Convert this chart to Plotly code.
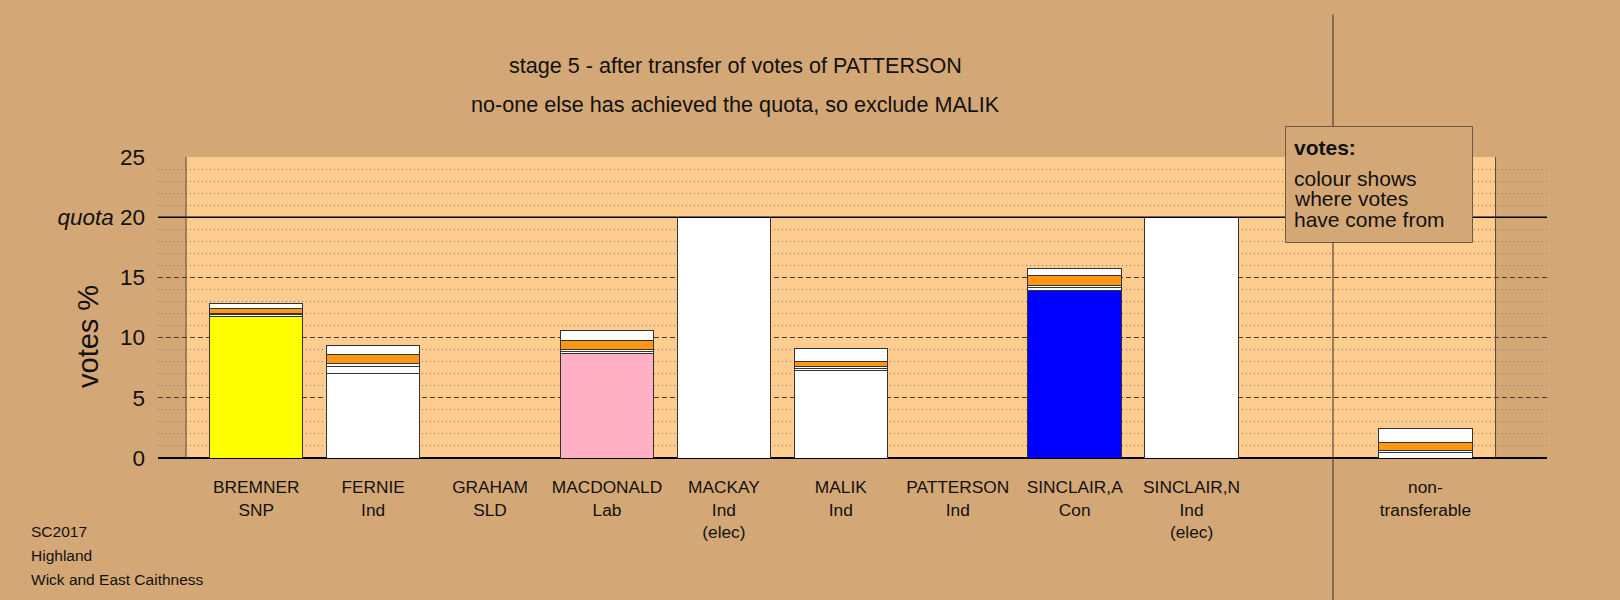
import plotly.graph_objects as go

# ---------------- data ----------------
categories = ["BREMNER<br>SNP", "FERNIE<br>Ind", "GRAHAM<br>SLD", "MACDONALD<br>Lab",
              "MACKAY<br>Ind<br>(elec)", "MALIK<br>Ind", "PATTERSON<br>Ind",
              "SINCLAIR,A<br>Con", "SINCLAIR,N<br>Ind<br>(elec)", "non-<br>transferable"]
x_index = [0, 1, 2, 3, 4, 5, 6, 7, 8, 10]

first_prefs = [11.74, 7.03, 0, 8.64, 20, 7.25, 0, 13.9, 20, 0]
first_colours = ["#FFFF00", "#FFFFFF", "#FF9614", "#FFB0C4", "#FFFFFF", "#FFFFFF",
                 "#FFFFFF", "#0000FF", "#FFFFFF", "#FFFFFF"]
from_mackay = [0.16, 0.61, 0, 0.18, 0, 0.20, 0, 0.30, 0, 0.45]
from_sinclair_n = [0.12, 0.23, 0, 0.18, 0, 0.19, 0, 0.15, 0, 0.20]
from_graham = [0.36, 0.72, 0, 0.80, 0, 0.36, 0, 0.83, 0, 0.65]
from_patterson = [0.47, 0.78, 0, 0.77, 0, 1.11, 0, 0.55, 0, 1.15]

quota = 20
y_ticks = [0, 5, 10, 15, 20, 25]
y_ticktext = ["0", "5", "10", "15", "<i>quota</i> 20", "25"]

title1 = "stage 5 - after transfer of votes of PATTERSON"
title2 = "no-one else has achieved the quota, so exclude MALIK"
footer = ["SC2017", "Highland", "Wick and East Caithness"]
legend_title = "votes:"
legend_lines = ["colour shows", "where votes", "have come from"]

# ---------------- style ----------------
BG = "#D4A876"
LIGHT = "#FFCC90"
ORANGE = "#FF9614"
EDGE = "#333333"
FONT = "Liberation Sans, Arial, sans-serif"

W, H = 1620, 600
L, R, T, B = 158, 73, 157, 142
PW, PH = W - L - R, H - T - B


def px(xp):
    return (xp - L) / PW


def py(yp):
    return (T + PH - yp) / PH


fig = go.Figure()

series = [
    (first_prefs, first_colours),
    (from_mackay, "#FFFFFF"),
    (from_sinclair_n, "#FFFFFF"),
    (from_graham, ORANGE),
    (from_patterson, "#FFFFFF"),
]
for vals, col in series:
    fig.add_trace(go.Bar(
        x=x_index, y=vals, width=0.8,
        marker=dict(color=col, line=dict(color=EDGE, width=1)),
        hoverinfo="skip", showlegend=False,
    ))

shapes = []
# light plotting area
shapes.append(dict(type="rect", xref="x", yref="y", x0=-0.6, x1=10.6, y0=0, y1=25,
                   fillcolor=LIGHT, line=dict(width=0), layer="below"))
for xv in (-0.6, 10.6):
    shapes.append(dict(type="line", xref="x", yref="y", x0=xv, x1=xv, y0=0, y1=25,
                       line=dict(color="#5a4634", width=1), layer="above"))
# quota line
shapes.append(dict(type="line", xref="paper", yref="y", x0=0, x1=1, y0=quota, y1=quota,
                   line=dict(color="#000000", width=1.5), layer="above"))
# divider
shapes.append(dict(type="line", xref="paper", yref="paper", x0=px(1333), x1=px(1333),
                   y0=py(14.5), y1=py(600), line=dict(color="#3a2e22", width=1), layer="above"))
# legend box
shapes.append(dict(type="rect", xref="paper", yref="paper", x0=px(1285.5), x1=px(1472.5),
                   y0=py(242.5), y1=py(126.5), fillcolor=BG,
                   line=dict(color="#6b5842", width=1), layer="above"))

ann = []
ann.append(dict(text=title1, x=px(735), y=py(65), xref="paper", yref="paper", showarrow=False,
                font=dict(size=21.6, color="#111", family=FONT), xanchor="center", yanchor="middle"))
ann.append(dict(text=title2, x=px(735), y=py(104), xref="paper", yref="paper", showarrow=False,
                font=dict(size=21.6, color="#111", family=FONT), xanchor="center", yanchor="middle"))
ann.append(dict(text="votes %", x=px(88), y=py(337), xref="paper", yref="paper", showarrow=False,
                textangle=-90, font=dict(size=29, color="#111", family=FONT),
                xanchor="center", yanchor="middle"))
for txt, yy in zip(footer, [531, 555, 579]):
    ann.append(dict(text=txt, x=px(29), y=py(yy), xref="paper", yref="paper", showarrow=False,
                    font=dict(size=15.5, color="#111", family=FONT), xanchor="left", yanchor="middle"))
ann.append(dict(text="<b>" + legend_title + "</b>", x=px(1292), y=py(147), xref="paper",
                yref="paper", showarrow=False, font=dict(size=21, color="#111", family=FONT),
                xanchor="left", yanchor="middle"))
for txt, yy in zip(legend_lines, [178, 198.5, 219]):
    ann.append(dict(text=txt, x=px(1292), y=py(yy), xref="paper", yref="paper", showarrow=False,
                    font=dict(size=21, color="#111", family=FONT), xanchor="left",
                    yanchor="middle", height=19, valign="middle"))

fig.update_layout(
    width=W, height=H,
    margin=dict(l=L, r=R, t=T, b=B, pad=0),
    paper_bgcolor=BG, plot_bgcolor=BG,
    barmode="stack", bargap=0.2,
    shapes=shapes, annotations=ann,
    font=dict(family=FONT, color="#111"),
    xaxis=dict(range=[-0.84, 11.04], tickvals=x_index, ticktext=categories,
               showgrid=False, zeroline=False, showline=False, ticks="",
               tickfont=dict(size=17.3, color="#111", family=FONT), ticklabelstandoff=17,
               fixedrange=True),
    yaxis=dict(range=[0, 25], tickvals=y_ticks, ticktext=y_ticktext,
               showgrid=True, gridcolor="#4a3c2e", griddash="5px,3px", gridwidth=1,
               minor=dict(dtick=1, showgrid=True, gridcolor="#8a7862", griddash="1px,3px",
                          gridwidth=1),
               zeroline=True, zerolinecolor="#000000", zerolinewidth=1.5,
               showline=False, ticks="",
               tickfont=dict(size=22.5, color="#111", family=FONT), ticklabelstandoff=12,
               fixedrange=True),
)

fig.write_html("out.html", config={"displayModeBar": False},
               post_script="document.body.style.margin='0px';")
